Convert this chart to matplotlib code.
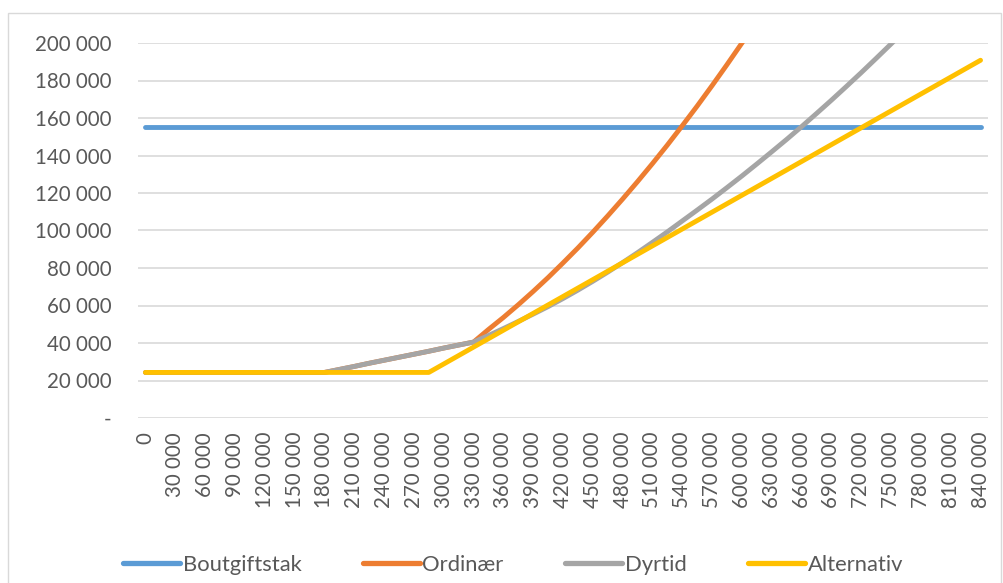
import numpy as np
import matplotlib.pyplot as plt
from matplotlib.patches import Rectangle
from matplotlib.ticker import FuncFormatter, MultipleLocator

plt.rcParams['font.family'] = ['Lato', 'DejaVu Sans']

# inntekt (kr), ett punkt per 15 000
inntekt = list(range(0, 855000, 15000))

boutgiftstak = [155000] * 57

dyrtid = [24300] * 13 + [
    25900, 27500, 29200, 30800, 32400, 34000, 35600, 37300, 38900, 40500,
    44000, 47700, 51500, 55400, 59400, 63700, 68200, 72900, 77800, 82900,
    88200, 93700, 99300, 105100, 110900, 116800, 122900, 129100, 135500,
    142000, 148600, 155400, 162400, 169500, 176800, 184200, 191800, 199500,
    207400, 215400, 223500, 231900, 240300, 249000]

ordinaer = dyrtid[:23] + [
    47200, 53600, 60400, 67500, 74900, 82700, 90700, 99100, 107800, 116800,
    126100, 135700, 145600, 155900, 166400, 177300, 188500, 200000, 211900,
    224000, 236500, 249200, 262300, 275700, 289400, 303500, 317800, 332500,
    347500, 362800, 378400, 394300, 410500, 427100]

alternativ = [24300] * 20 + [
    28800, 33300, 37800, 42300, 46800, 51300, 55800, 60300, 64800, 69300,
    73800, 78300, 82800, 87300, 91800, 96300, 100800, 105300, 109800, 114300,
    118800, 123300, 127800, 132300, 136800, 141300, 145800, 150300, 154800,
    159300, 163800, 168300, 172800, 177300, 181800, 186300, 190800]

serier = ['Boutgiftstak', 'Ordinær', 'Dyrtid', 'Alternativ']
farger = ['#5B9BD5', '#ED7D31', '#A5A5A5', '#FFC000']

tekstfarge = '#595959'

fig = plt.figure(figsize=(10.04, 5.83), dpi=100)
# ramme rundt hele diagrammet
fig.patches.append(Rectangle((8 / 1004, -0.05), 993 / 1004, 1 - 13 / 583 + 0.05,
                             transform=fig.transFigure, fill=False,
                             edgecolor='#D9D9D9', linewidth=1.0))

ax = fig.add_axes([138 / 1004, 1 - 418 / 583, 850 / 1004, 375 / 583])

for data, navn, farge in zip([boutgiftstak, ordinaer, dyrtid, alternativ], serier, farger):
    ax.plot(inntekt, data, color=farge, lw=3.5, label=navn,
            solid_capstyle='round', solid_joinstyle='round')

ax.set_xlim(-7500, 847500)
ax.set_ylim(0, 200000)

ax.yaxis.set_major_locator(MultipleLocator(20000))
ax.yaxis.set_major_formatter(FuncFormatter(
    lambda v, p: '-' if v == 0 else f'{int(v):,}'.replace(',', ' ')))
ax.set_xticks(range(0, 841000, 30000))
ax.xaxis.set_major_formatter(FuncFormatter(
    lambda v, p: f'{int(v):,}'.replace(',', ' ')))

ax.grid(axis='y', color='#D9D9D9', lw=1.2)
ax.set_axisbelow(True)
for s in ax.spines.values():
    s.set_visible(False)
ax.tick_params(axis='y', length=0, pad=19, labelsize=14.8, labelcolor=tekstfarge)
ax.tick_params(axis='x', length=0, pad=10, labelsize=14.8, labelcolor=tekstfarge,
               labelrotation=90)

leg = fig.legend(loc='center', bbox_to_anchor=(0.511, 1 - 565 / 583), ncol=4,
                 frameon=False, fontsize=15.8, handlelength=2.6, handletextpad=0.12,
                 columnspacing=2.8, labelcolor=tekstfarge)
for h in leg.get_lines():
    h.set_linewidth(3.8)

fig.savefig('out.png', dpi=100)
